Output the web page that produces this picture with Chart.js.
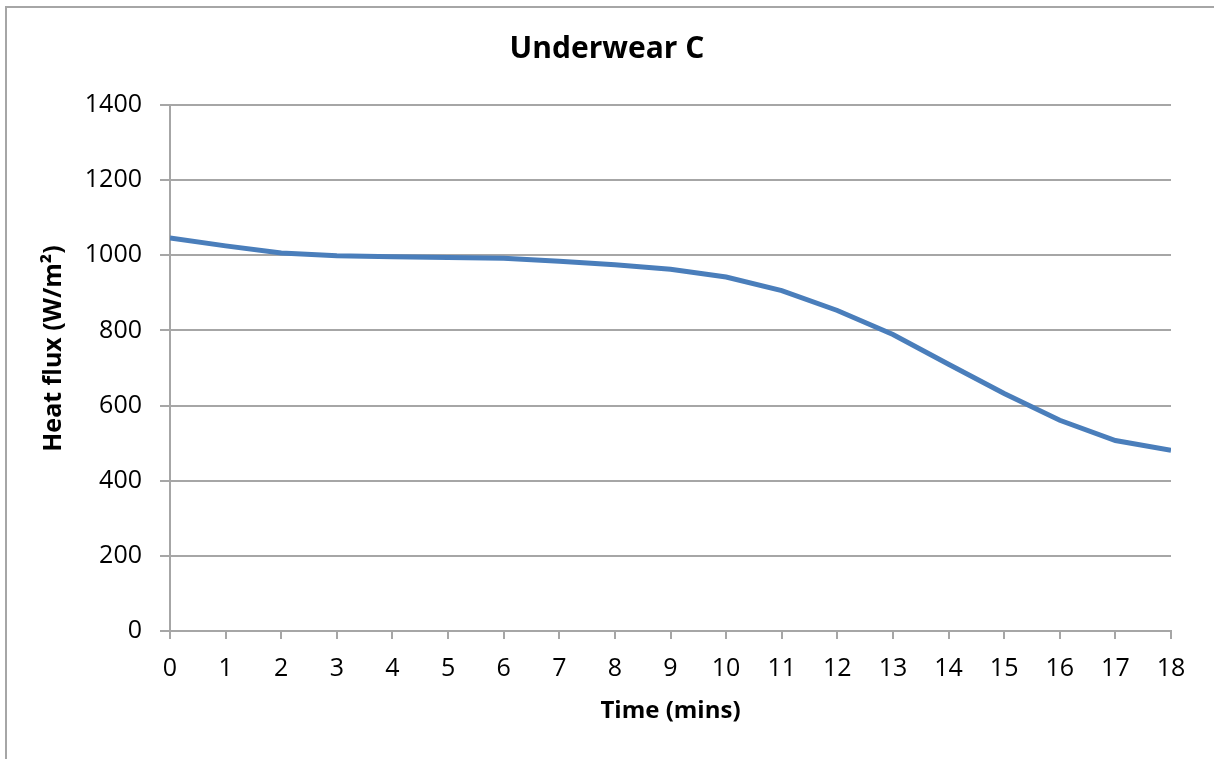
<!DOCTYPE html>
<html>
<head>
<meta charset="utf-8">
<script src="https://cdn.jsdelivr.net/npm/chart.js@4"></script>
<style>
  html, body { margin: 0; padding: 0; background: #ffffff; overflow: hidden; }
  #frame { position: absolute; left: 5px; top: 6px; width: 3000px; height: 3000px;
           border-left: 2px solid #a6a6a6; border-top: 2px solid #a6a6a6; box-sizing: border-box; }
  #c { position: absolute; left: 0; top: 0; }
</style>
</head>
<body>
<div id="frame"></div>
<canvas id="c" width="1214" height="759"></canvas>
<script>
const chartTitle = "Underwear C";
const xTitle = "Time (mins)";
const yTitle = "Heat flux (W/m²)";
const timeMins = [0, 1, 2, 3, 4, 5, 6, 7, 8, 9, 10, 11, 12, 13, 14, 15, 16, 17, 18];
const heatFlux = [1046, 1025, 1006, 999, 996, 994, 992, 984, 975, 963, 942, 906, 853, 789, 710, 632, 561, 507, 481];
const yTicks = [0, 200, 400, 600, 800, 1000, 1200, 1400];

const points = timeMins.map((t, i) => ({ x: t, y: heatFlux[i] }));
const FONT = "'Open Sans', 'DejaVu Sans', sans-serif";
const GRID = '#a6a6a6';

new Chart(document.getElementById('c'), {
  type: 'line',
  data: {
    datasets: [{
      data: points,
      borderColor: '#4a7ebb',
      borderWidth: 5,
      pointRadius: 0,
      tension: 0,
      fill: false,
      xAxisID: 'x',
      yAxisID: 'y'
    }]
  },
  options: {
    responsive: false,
    animation: false,
    layout: { padding: 0 },
    plugins: {
      legend: { display: false },
      tooltip: { enabled: false },
      title: {
        display: true,
        text: chartTitle,
        color: '#000000',
        font: { family: FONT, size: 30, weight: 'bold' },
        padding: { top: 31, bottom: 38 }
      }
    },
    scales: {
      x: {
        type: 'linear',
        min: 0, max: 18,
        afterFit: s => { s.height = 128; },
        afterBuildTicks: s => { s.ticks = timeMins.map(v => ({ value: v })); },
        ticks: { color: '#000000', font: { family: FONT, size: 25 }, padding: 15, maxRotation: 0, autoSkip: false,
                 callback: v => String(v) },
        grid: { drawOnChartArea: false, drawTicks: true, tickLength: 8, color: GRID, lineWidth: 2 },
        border: { display: true, color: GRID, width: 2 },
        title: { display: true, text: xTitle, color: '#000000', font: { family: FONT, size: 24, weight: 'bold' }, padding: { top: 0, bottom: 33 } }
      },
      y: {
        position: 'left',
        min: 0, max: 1400,
        afterFit: s => { s.width = 170; },
        afterBuildTicks: s => { s.ticks = yTicks.map(v => ({ value: v })); },
        ticks: { color: '#000000', font: { family: FONT, size: 25 }, padding: 18, callback: v => String(v) },
        grid: { drawOnChartArea: true, drawTicks: true, tickLength: 10, color: GRID, lineWidth: 2 },
        border: { display: true, color: GRID, width: 2 },
        title: { display: true, text: '      ' + yTitle, color: '#000000', font: { family: FONT, size: 25, weight: 'bold' }, padding: { top: 39, bottom: 0 } }
      },
      yRight: {
        position: 'right',
        min: 0, max: 1400,
        afterFit: s => { s.width = 43; },
        ticks: { display: false },
        grid: { display: false, drawTicks: false },
        border: { display: false },
        title: { display: false }
      }
    }
  }
});
</script>
</body>
</html>
